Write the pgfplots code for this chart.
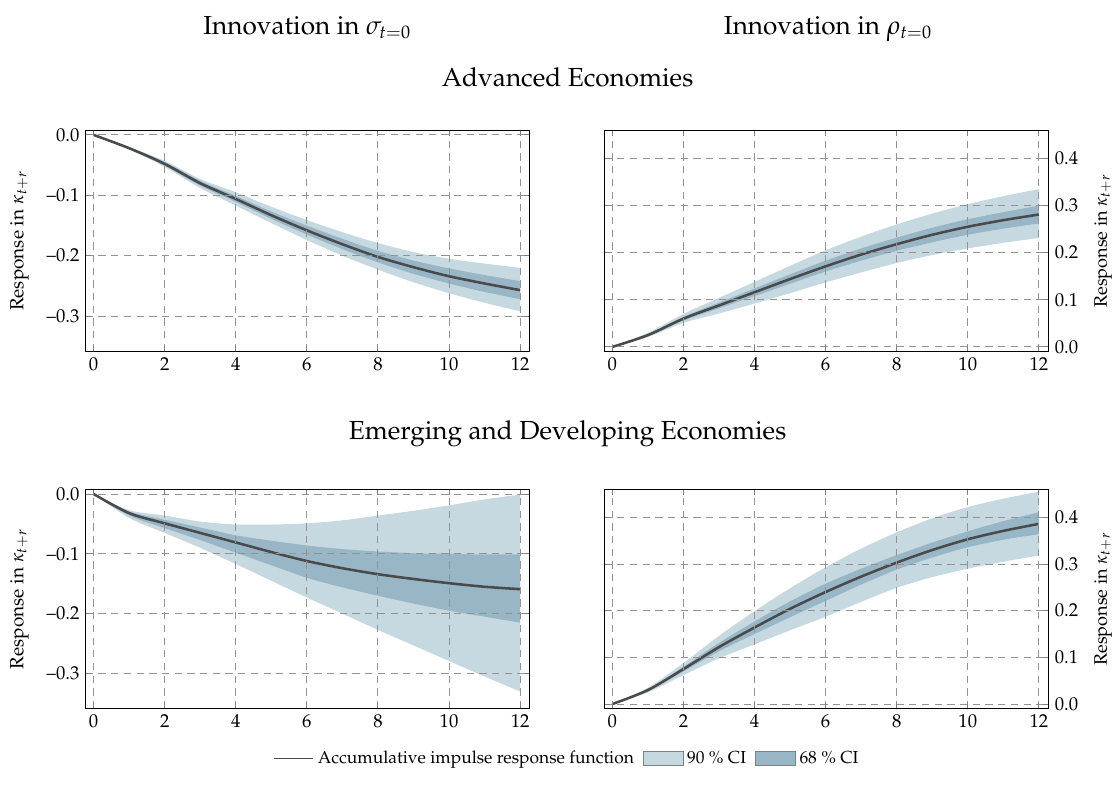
\documentclass[border=0pt]{standalone}
\usepackage[T1]{fontenc}
\usepackage{mathpazo}
\usepackage{pgfplots}
\usepackage{pgfplotstable}
\pgfplotsset{compat=1.18}
\usepgfplotslibrary{fillbetween}

\definecolor{ci90}{RGB}{198,217,225}
\definecolor{ci68}{RGB}{153,182,199}
\definecolor{irf}{RGB}{74,74,74}

% columns: horizon, mean, 90% band, 68% band
\pgfplotstableread{
x m l90 u90 l68 u68
0 0 0 0 0 0
1 -0.022 -0.024 -0.020 -0.023 -0.021
2 -0.048 -0.053 -0.043 -0.051 -0.045
3 -0.080 -0.088 -0.073 -0.084 -0.076
4 -0.106 -0.117 -0.095 -0.111 -0.101
5 -0.133 -0.146 -0.119 -0.139 -0.127
6 -0.158 -0.174 -0.141 -0.165 -0.150
7 -0.181 -0.200 -0.161 -0.189 -0.172
8 -0.202 -0.223 -0.179 -0.211 -0.192
9 -0.219 -0.244 -0.194 -0.230 -0.208
10 -0.234 -0.262 -0.205 -0.246 -0.221
11 -0.246 -0.278 -0.213 -0.260 -0.232
12 -0.257 -0.292 -0.220 -0.272 -0.242
}\advsigma

\pgfplotstableread{
x m l90 u90 l68 u68
0 0 0 0 0 0
1 0.025 0.021 0.030 0.023 0.027
2 0.060 0.051 0.070 0.056 0.064
3 0.088 0.071 0.104 0.082 0.094
4 0.116 0.092 0.138 0.108 0.124
5 0.144 0.114 0.172 0.134 0.154
6 0.171 0.137 0.205 0.160 0.183
7 0.196 0.158 0.234 0.183 0.209
8 0.218 0.178 0.260 0.204 0.232
9 0.238 0.195 0.283 0.222 0.253
10 0.255 0.209 0.303 0.238 0.271
11 0.269 0.221 0.320 0.251 0.286
12 0.281 0.231 0.335 0.262 0.300
}\advrho

\pgfplotstableread{
x m l90 u90 l68 u68
0 0 0 0 0 0
1 -0.032 -0.040 -0.027 -0.036 -0.029
2 -0.049 -0.065 -0.036 -0.057 -0.043
3 -0.065 -0.090 -0.046 -0.077 -0.056
4 -0.081 -0.117 -0.051 -0.098 -0.069
5 -0.097 -0.145 -0.051 -0.119 -0.078
6 -0.112 -0.173 -0.049 -0.140 -0.086
7 -0.124 -0.200 -0.044 -0.156 -0.092
8 -0.134 -0.227 -0.036 -0.170 -0.096
9 -0.142 -0.253 -0.028 -0.183 -0.099
10 -0.149 -0.279 -0.019 -0.195 -0.100
11 -0.155 -0.305 -0.009 -0.205 -0.101
12 -0.159 -0.330 -0.001 -0.215 -0.101
}\emsigma

\pgfplotstableread{
x m l90 u90 l68 u68
0 0 0 0 0 0
1 0.030 0.025 0.035 0.028 0.032
2 0.075 0.062 0.088 0.070 0.080
3 0.122 0.098 0.146 0.113 0.131
4 0.164 0.128 0.199 0.150 0.177
5 0.204 0.158 0.248 0.186 0.220
6 0.240 0.187 0.293 0.221 0.258
7 0.273 0.219 0.333 0.256 0.290
8 0.303 0.249 0.368 0.288 0.319
9 0.330 0.272 0.398 0.314 0.346
10 0.353 0.290 0.422 0.336 0.370
11 0.371 0.305 0.440 0.352 0.392
12 0.386 0.318 0.455 0.364 0.411
}\emrho

\newcommand\irfplots[1]{%
  \addplot[draw=none, smooth, name path=u90, forget plot] table[x=x,y=u90]{#1};
  \addplot[draw=none, smooth, name path=l90, forget plot] table[x=x,y=l90]{#1};
  \addplot[fill=ci90, draw=none, forget plot] fill between[of=u90 and l90];
  \addplot[draw=none, smooth, name path=u68, forget plot] table[x=x,y=u68]{#1};
  \addplot[draw=none, smooth, name path=l68, forget plot] table[x=x,y=l68]{#1};
  \addplot[fill=ci68, draw=none, forget plot] fill between[of=u68 and l68];
  \addplot[irf, line width=1.4pt, smooth, forget plot] table[x=x,y=m]{#1};
}

\pgfplotsset{
  irfpanel/.style={
    scale only axis, width=244.75pt, anchor=south west,
    xmin=-0.22, xmax=12.27, xtick={0,2,4,6,8,10,12},
    grid=major,
    major grid style={gray!85, dash pattern=on 4pt off 3pt, line width=0.5pt},
    tick style={gray, line width=0.5pt}, major tick length=3pt,
    axis line style={line width=0.5pt},
    axis on top,
    tick label style={font=\fontsize{10.3}{12}\selectfont},
    label style={font=\fontsize{10.5}{12}\selectfont},
    ylabel={Response in $\kappa_{t+r}$},
  },
  leftpanel/.style={irfpanel, ymin=-0.358, ymax=0.007,
    ytick={-0.3,-0.2,-0.1,0}, yticklabels={--0.3,--0.2,--0.1,0.0},
    ylabel style={yshift=3pt}},
  rightpanel/.style={irfpanel, ymin=-0.009, ymax=0.459,
    ytick={0,0.1,0.2,0.3,0.4}, yticklabels={0.0,0.1,0.2,0.3,0.4},
    yticklabel pos=right, ylabel near ticks, ylabel style={yshift=-2pt}},
}

\begin{document}
\begin{tikzpicture}
\begin{scope}[x=0.55pt, y=-0.55pt]
\useasboundingbox (0,0) rectangle (1118,794);
\node[anchor=base, font=\fontsize{14.4}{17}\selectfont] at (308,35) {Innovation in $\sigma_{t=0}$};
\node[anchor=base, font=\fontsize{14.4}{17}\selectfont] at (830,35) {Innovation in $\rho_{t=0}$};
\node[anchor=base, font=\fontsize{14.4}{17}\selectfont] at (569,87) {Advanced Economies};
\node[anchor=base, font=\fontsize{14.4}{17}\selectfont] at (569,441) {Emerging and Developing Economies};
\end{scope}

\begin{axis}[leftpanel, height=121.55pt, at={(47.3pt,-193.6pt)}]
\irfplots{\advsigma}
\end{axis}

\begin{axis}[rightpanel, height=121.55pt, at={(333.3pt,-193.6pt)}]
\irfplots{\advrho}
\end{axis}

\begin{axis}[leftpanel, height=120.45pt, at={(47.3pt,-390.5pt)},
  legend style={at={(1.085,-0.23)}, anchor=center, draw=none, fill=none,
    legend columns=3, font=\fontsize{9.6}{12}\selectfont,
    /tikz/every even column/.append style={column sep=3pt}},
  legend cell align=left]
\addlegendimage{legend image code/.code={\draw[irf, line width=0.9pt] (0pt,0pt) -- (22pt,0pt);}}
\addlegendentry{Accumulative impulse response function}
\addlegendimage{legend image code/.code={\draw[fill=ci90, draw=gray] (0pt,-3.8pt) rectangle (22pt,3.8pt);}}
\addlegendentry{90 \% CI}
\addlegendimage{legend image code/.code={\draw[fill=ci68, draw=gray] (0pt,-3.8pt) rectangle (22pt,3.8pt);}}
\addlegendentry{68 \% CI}
\irfplots{\emsigma}
\end{axis}

\begin{axis}[rightpanel, height=120.45pt, at={(333.3pt,-390.5pt)}]
\irfplots{\emrho}
\end{axis}
\end{tikzpicture}
\end{document}
